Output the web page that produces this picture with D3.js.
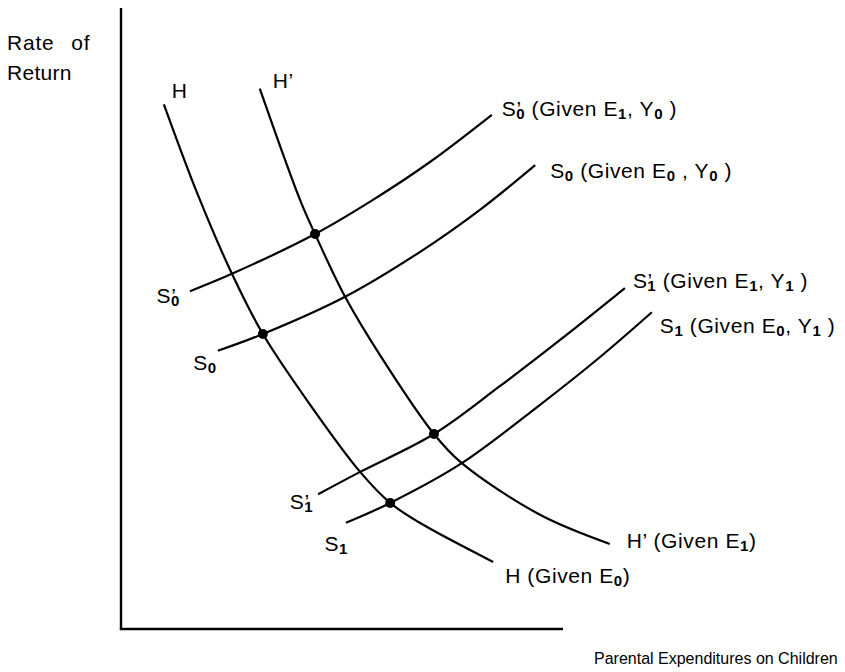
<!DOCTYPE html>
<html>
<head>
<meta charset="utf-8">
<script src="https://cdn.jsdelivr.net/npm/d3@7"></script>
<style>
  html, body { margin: 0; padding: 0; background: #fff; }
  svg text { font-family: "Liberation Sans", Arial, Helvetica, sans-serif; fill: #000; }
</style>
</head>
<body>
<svg id="chart" width="845" height="672"></svg>
<script>
// ---- data (abstract units: x = parental expenditures, y = rate of return) ----
const curveH      = [[9.7,84.5],[17.4,69.9],[25.1,57.2],[32.1,47.5],[42.8,36.1],[54.1,25.3],[60.9,20.3],[67.6,17.1],[84.2,10.8]];
const curveHp     = [[31.4,87.0],[40.5,69.1],[43.9,63.6],[50.7,53.5],[58.6,44.1],[70.8,31.4],[77.1,26.7],[94.8,18.4],[110.6,13.7]];
const curveS0p    = [[15.6,54.4],[25.1,57.2],[43.9,63.6],[57.0,69.1],[69.9,75.2],[83.9,82.8]];
const curveS0     = [[21.9,44.8],[32.1,47.5],[50.7,53.5],[67.6,60.7],[81.2,67.5],[93.7,74.7]];
const curveS1p    = [[44.6,21.7],[54.1,25.3],[70.8,31.4],[85.7,39.1],[100.5,47.2],[114.0,54.9]];
const curveS1     = [[50.9,17.1],[60.9,20.3],[77.1,26.7],[94.8,36.1],[108.4,43.8],[120.1,51.0]];
const equilibria  = [[43.9,63.6],[32.1,47.5],[70.8,31.4],[60.9,20.3]];
const yAxisLabel  = ["Rate of", "Return"];
const xAxisLabel  = "Parental Expenditures on Children";

const svg = d3.select("#chart");
const x = d3.scaleLinear().domain([0, 100]).range([121, 563]);
const y = d3.scaleLinear().domain([0, 100]).range([629, 8]);

// axes (plain lines, no ticks)
svg.append("line").attr("x1", x(0)).attr("x2", x(0)).attr("y1", y(0)).attr("y2", y(100))
  .attr("stroke", "#000").attr("stroke-width", 2.4);
svg.append("line").attr("x1", x(0) - 1.2).attr("x2", x(100)).attr("y1", y(0)).attr("y2", y(0))
  .attr("stroke", "#000").attr("stroke-width", 2.4);

const line = d3.line().x(d => x(d[0])).y(d => y(d[1])).curve(d3.curveCatmullRom.alpha(0.5));
[curveH, curveHp, curveS0p, curveS0, curveS1p, curveS1].forEach(c => {
  svg.append("path").attr("d", line(c)).attr("fill", "none")
    .attr("stroke", "#000").attr("stroke-width", 2.2).attr("stroke-linecap", "butt");
});

svg.selectAll("circle.eq").data(equilibria).join("circle").attr("class", "eq")
  .attr("cx", d => x(d[0])).attr("cy", d => y(d[1])).attr("r", 5).attr("fill", "#000");

// label helper
const FS = 21, SUB = 15;
function label(px, py, parts, anchor) {
  const t = svg.append("text").attr("x", px).attr("y", py).attr("font-size", FS)
    .attr("text-anchor", anchor || "start").attr("letter-spacing", 0.6);
  let shift = 0;
  parts.forEach(p => {
    if (typeof p === "string") {
      t.append("tspan").attr("dy", -shift).text(p); shift = 0;
    } else if (p.prime) {
      t.append("tspan").attr("dy", -shift).text("’"); shift = 0;
    } else if (p.sub !== undefined) {
      const s = t.append("tspan").attr("dy", 3 - shift).attr("font-size", SUB).attr("font-weight", "bold").text(p.sub);
      if (p.under) s.attr("dx", -5.5);
      shift = 3;
    }
  });
  if (shift) t.append("tspan").attr("dy", -shift).text("");
  return t;
}

const last = c => c[c.length - 1], first = c => c[0];
const X = d => x(d[0]), Y = d => y(d[1]);

// labels at the upper/right ends of the curves
label(X(last(curveS0p)) + 10, Y(last(curveS0p)) + 1, ["S", {prime:true}, {sub:"0", under:true}, " (Given E", {sub:"1"}, ",  Y", {sub:"0"}, " )"]);
label(X(last(curveS0)) + 15, Y(last(curveS0)) + 13, ["S", {sub:"0"}, " (Given E", {sub:"0"}, " ,  Y", {sub:"0"}, " )"]);
label(X(last(curveS1p)) + 8, Y(last(curveS1p)) - 0, ["S", {prime:true}, {sub:"1", under:true}, " (Given E", {sub:"1"}, ",  Y", {sub:"1"}, " )"]);
label(X(last(curveS1)) + 8, Y(last(curveS1)) + 21, ["S", {sub:"1"}, " (Given E", {sub:"0"}, ",  Y", {sub:"1"}, " )"]);
label(X(last(curveHp)) + 17, Y(last(curveHp)) + 4, ["H’ (Given E", {sub:"1"}, ")"]);
label(X(last(curveH)) + 12, Y(last(curveH)) + 21, ["H (Given E", {sub:"0"}, ")"]);

// labels at the lower/left starts of the curves
label(X(first(curveS0p)) - 10, Y(first(curveS0p)) + 12, ["S", {prime:true}, {sub:"0", under:true}], "end");
label(X(first(curveS0)) - 1, Y(first(curveS0)) + 19, ["S", {sub:"0"}], "end");
label(X(first(curveS1p)) - 5, Y(first(curveS1p)) + 15, ["S", {prime:true}, {sub:"1", under:true}], "end");
label(X(first(curveS1)) + 2, Y(first(curveS1)) + 28, ["S", {sub:"1"}], "end");
label(X(first(curveH)) + 8, Y(first(curveH)) - 6, ["H"]);
label(X(first(curveHp)) + 13, Y(first(curveHp)) - 1, ["H’"]);

// axis titles
svg.append("text").attr("x", 7).attr("y", 50).attr("font-size", FS).attr("letter-spacing", 0.8)
  .attr("word-spacing", 10).text(yAxisLabel[0]);
svg.append("text").attr("x", 7).attr("y", 80).attr("font-size", FS).attr("letter-spacing", 0.3).text(yAxisLabel[1]);
svg.append("text").attr("x", 594).attr("y", 664).attr("font-size", 16).text(xAxisLabel);
</script>
</body>
</html>
